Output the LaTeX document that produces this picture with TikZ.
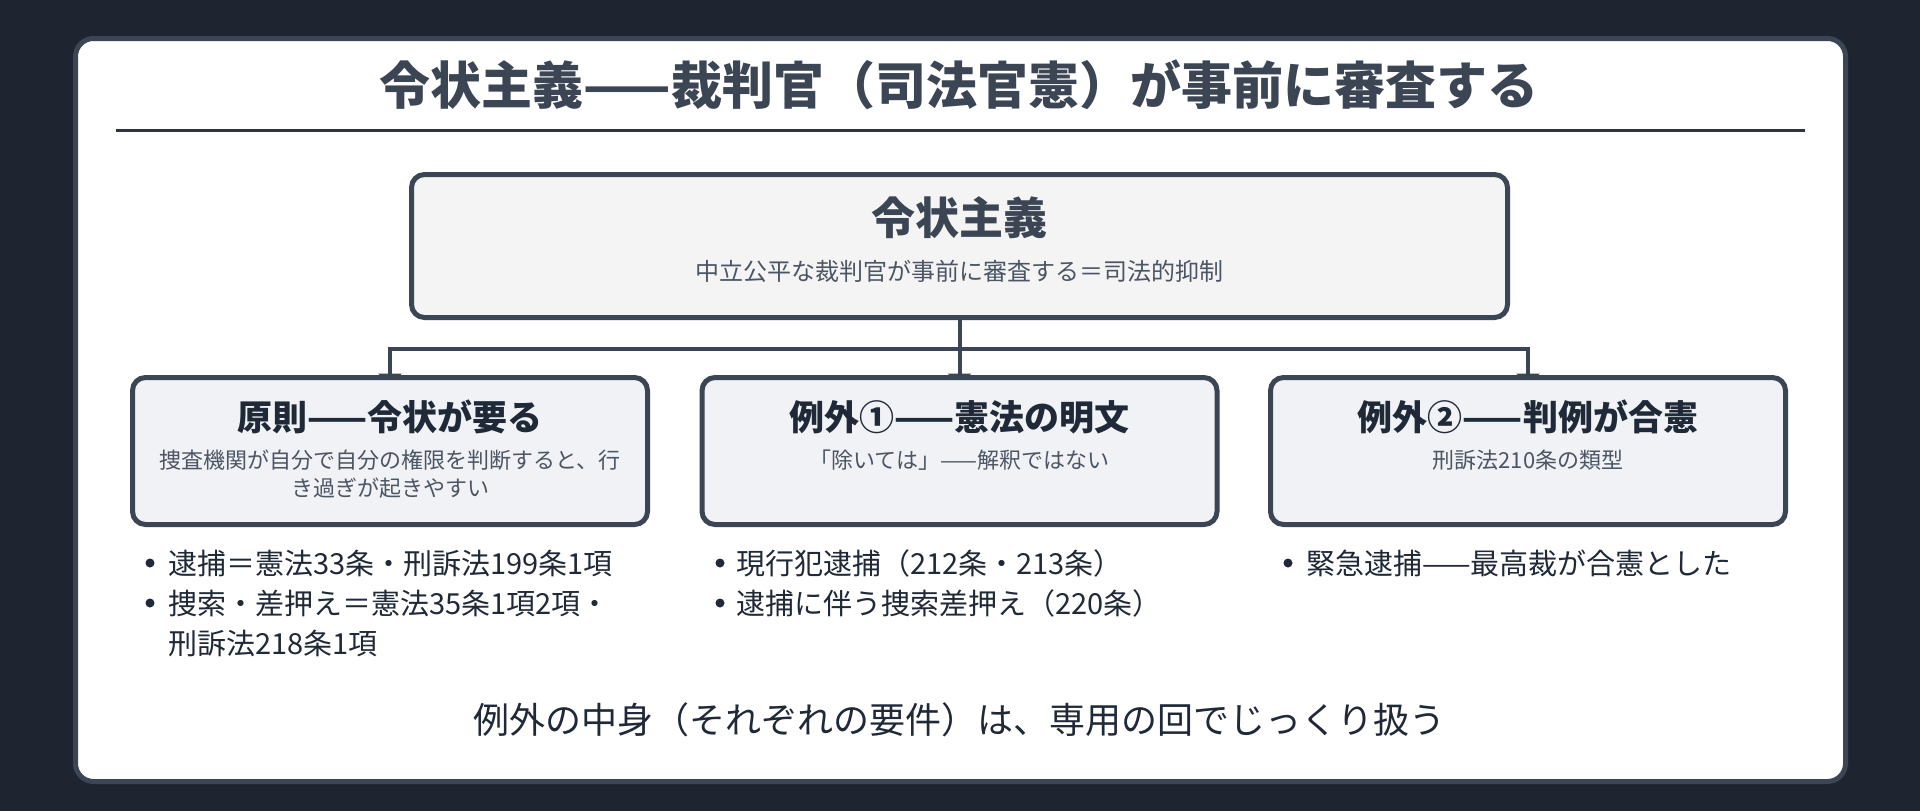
\documentclass[tikz,border=0pt]{standalone}
\usepackage{fontspec}
\setmainfont{Noto Sans CJK JP}
\usetikzlibrary{positioning, arrows.meta, backgrounds}
\definecolor{bgdark}{HTML}{1E2530}
\definecolor{slate}{HTML}{3B4553}
\definecolor{rulegray}{HTML}{2D3440}
\definecolor{topfill}{HTML}{F4F4F5}
\definecolor{boxfill}{HTML}{F0F2F5}
\definecolor{subgray}{HTML}{4B5563}
\definecolor{ink}{HTML}{1F2937}

\begin{document}
\begin{tikzpicture}[x=1pt, y=-1pt, >={Triangle[width=24pt,length=10pt,line width=0pt]},
		box/.style={draw=slate, line width=5pt, rounded corners=13pt, fill=boxfill,
			minimum width=515pt, minimum height=147pt, inner sep=0pt},
		head/.style={inner sep=0pt, text=ink, font=\fontsize{35}{40}\selectfont\bfseries},
		sub/.style={inner sep=0pt, text=subgray, align=center, font=\fontsize{22}{28}\selectfont},
		item/.style={inner sep=0pt, anchor=west, align=left, text=ink, font=\fontsize{29}{40}\selectfont},
		link/.style={draw=slate, line width=4pt},
		node distance=43pt]
		% heading
		\node [inner sep=0pt, text=slate, font=\fontsize{51}{60}\selectfont\bfseries] at (959,85) (title) {令状主義——裁判官（司法官憲）が事前に審査する};
		\coordinate (ruleL) at (116,130);
		\coordinate (ruleR) at (1805,130);

		% top box
		\node [box, fill=topfill, minimum width=1096pt, minimum height=143pt] at (959.5,246) (top) {};
		\node [head, text=slate, font=\fontsize{44}{50}\selectfont\bfseries] at (959.5,218) (topH) {令状主義};
		\node [sub, font=\fontsize{24}{30}\selectfont, below of=topH, node distance=53pt] (topS) {中立公平な裁判官が事前に審査する＝司法的抑制};

		% three boxes
		\node [box] at (390,451) (principle) {};
		\node [head] at (390,417) (principleH) {原則——令状が要る};
		\node [sub, below of=principleH, node distance=57pt] (principleS) {捜査機関が自分で自分の権限を判断すると、行\\き過ぎが起きやすい};

		\node [box] at (959.5,451) (exA) {};
		\node [head] at (959.5,417) (exAH) {例外①——憲法の明文};
		\node [sub, below of=exAH] (exAS) {「除いては」——解釈ではない};

		\node [box] at (1528,451) (exB) {};
		\node [head] at (1528,417) (exBH) {例外②——判例が合憲};
		\node [sub, below of=exBH] (exBS) {刑訴法210条の類型};

		% lists
		\node [item] at (168,563) (p1) {逮捕＝憲法33条・刑訴法199条1項};
		\node [item] at (168,623) (p2) {捜索・差押え＝憲法35条1項2項・\\刑訴法218条1項};
		\node [item] at (736,563) (a1) {現行犯逮捕（212条・213条）};
		\node [item] at (736,603) (a2) {逮捕に伴う捜索差押え（220条）};
		\node [item] at (1306,563) (b1) {緊急逮捕——最高裁が合憲とした};

		\fill [ink] ([xshift=-18pt]p1.west) circle (4.5pt);
		\fill [ink] ([xshift=-18pt, yshift=20pt]p2.west) circle (4.5pt);
		\fill [ink] ([xshift=-16pt]a1.west) circle (4.5pt);
		\fill [ink] ([xshift=-16pt]a2.west) circle (4.5pt);
		\fill [ink] ([xshift=-18pt]b1.west) circle (4.5pt);

		\node [inner sep=0pt, text=ink, font=\fontsize{36}{44}\selectfont] at (959,720) (note) {例外の中身（それぞれの要件）は、専用の回でじっくり扱う};

		\begin{scope}[on background layer]
			\fill [bgdark] (0,0) rectangle (1920,811);
			\draw [slate, line width=5pt, fill=white, rounded corners=18pt] (75.5,38.5) rectangle (1845.5,781.5);
			\draw [rulegray, line width=3pt] (ruleL) -- (ruleR);
			\coordinate (fork) at (959.5,349);
			\draw [link, ->] (top.south) -- (fork) -| ([yshift=-8.5pt]principle.north);
			\draw [link, ->] (top.south) -- (fork) -| ([yshift=-8.5pt]exB.north);
			\draw [link, ->] (fork) -- ([yshift=-8.5pt]exA.north);
		\end{scope}
	\end{tikzpicture}
\end{document}
